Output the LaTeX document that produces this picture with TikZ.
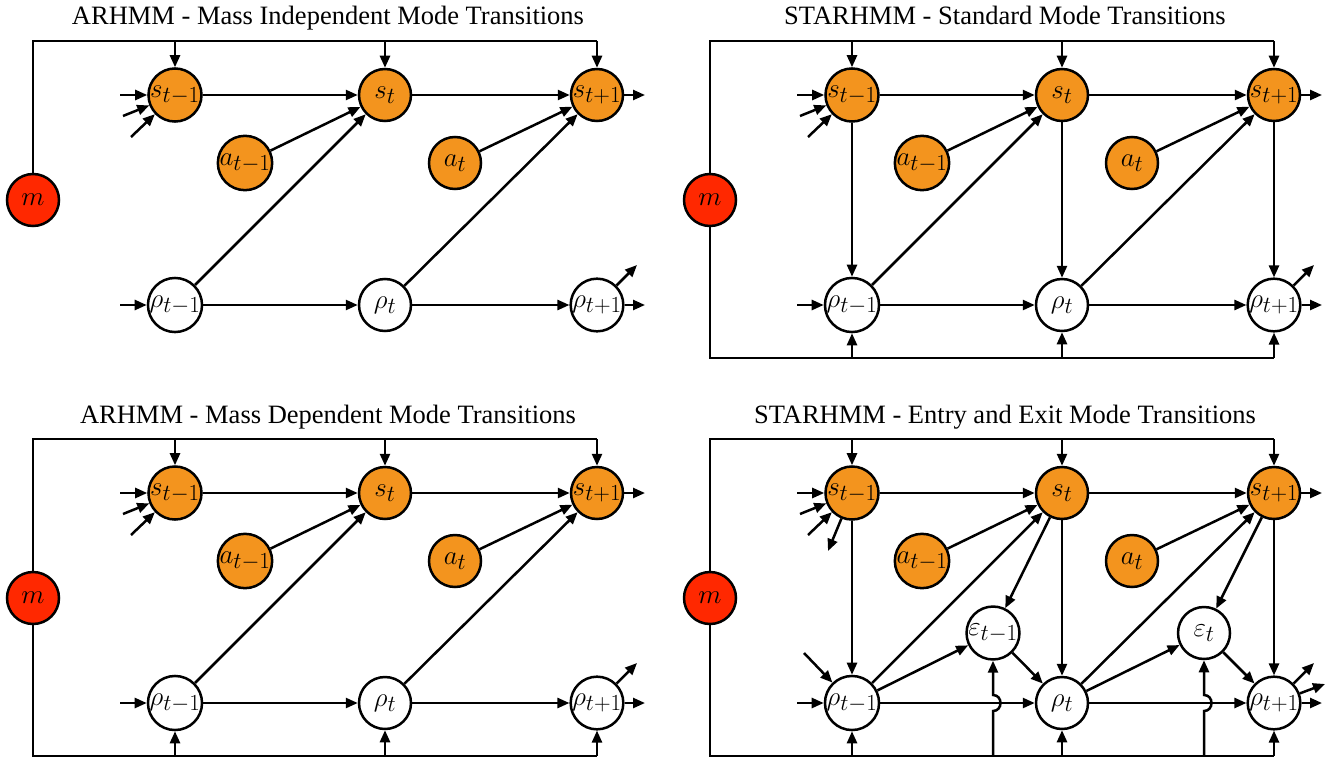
\documentclass[tikz,border=0pt]{standalone}
\usepackage{fix-cm}
\usepackage{fontspec}
\newfontfamily\titlefont{Liberation Serif}
\DeclareMathSizes{27}{27}{23}{18}
\usetikzlibrary{arrows.meta}
\definecolor{stateorange}{RGB}{243,148,30}
\definecolor{massred}{RGB}{255,40,0}
\tikzset{
    var/.style =     {circle,
                     draw=black,
                     text=black,
                     line width=2.5pt,
                     minimum size=52pt,
                     inner sep=0pt,
                     font=\fontsize{27}{32}\selectfont},
    mode/.style =    {var,
                     fill=stateorange},
    mass/.style =    {var,
                     fill=massred},
    latent/.style =  {var,
                     fill=white},
    heading/.style = {font=\titlefont\fontsize{26.5}{30}\selectfont,
                     anchor=base,
                     inner sep=0pt},
    >={Triangle[length=12pt,width=10pt]}}

\begin{document}
\begin{tikzpicture}[x=1pt,y=-1pt,line width=2.5pt]
    \useasboundingbox (0,0) rectangle (1327,760);
    % the part every panel shares
    \foreach \p/\dx/\dy/\ttl in {A/0/0/{ARHMM - Mass Independent Mode Transitions},
                                 B/677/0/{STARHMM - Standard Mode Transitions},
                                 C/0/398/{ARHMM - Mass Dependent Mode Transitions},
                                 D/677/398/{STARHMM - Entry and Exit Mode Transitions}}{
        \begin{scope}[shift={(\dx,\dy)}]
            \node[heading]  (\p title) at (328,25)   {\ttl};
            \node[mass]     (\p m)     at (33,200)   {$m$};
            \node[mode]     (\p s1)    at (175,95)   {$s_{t-1}$};
            \node[mode]     (\p s2)    at (385,95)   {$s_t$};
            \node[mode]     (\p s3)    at (597,95)   {$s_{t+1}$};
            \node[mode]     (\p a1)    at (245,163)  {$a_{t-1}$};
            \node[mode]     (\p a2)    at (455,163)  {$a_t$};
            \node[latent]   (\p r1)    at (175,305)  {$\rho_{t-1}$};
            \node[latent]   (\p r2)    at (385,305)  {$\rho_t$};
            \node[latent]   (\p r3)    at (597,305)  {$\rho_{t+1}$};
            \coordinate (\p top1) at (175,41);
            \coordinate (\p top2) at (385,41);
            \coordinate (\p top3) at (597,41);
            \coordinate (\p bot1) at (175,358);
            \coordinate (\p bot2) at (385,358);
            \coordinate (\p bot3) at (597,358);
            \coordinate (\p in1)  at (120,95);
            \coordinate (\p in2)  at (123,116);
            \coordinate (\p in3)  at (131,137);
            \coordinate (\p in4)  at (120,305);
            \coordinate (\p out1) at (645,95);
            \coordinate (\p out2) at (645,305);
            \coordinate (\p out3) at (637,265);
        \end{scope}
        \draw (\p m) |- (\p top3);
        \foreach \i in {1,2,3}
            \draw[->] (\p top\i) -- (\p s\i);
        \path [->]  (\p s1) edge (\p s2)
                    (\p s2) edge (\p s3)
                    (\p a1) edge (\p s2)
                    (\p a2) edge (\p s3)
                    (\p r1) edge (\p s2)
                    (\p r2) edge (\p s3)
                    (\p r1) edge (\p r2)
                    (\p r2) edge (\p r3);
        \draw[->] (\p in1) -- (\p s1);
        \draw[->] (\p in2) -- (\p s1);
        \draw[->] (\p in3) -- (\p s1);
        \draw[->] (\p in4) -- (\p r1);
        \draw[->] (\p s3) -- (\p out1);
        \draw[->] (\p r3) -- (\p out2);
        \draw[->] (\p r3) -- (\p out3);
    }
    % mass into the rho nodes
    \foreach \p in {B,C,D}{
        \draw (\p m) |- (\p bot3);
        \foreach \i in {1,2,3}
            \draw[->] (\p bot\i) -- (\p r\i);
    }
    % mode to rho
    \foreach \p in {B,D}
        \foreach \i in {1,2,3}
            \draw[->] (\p s\i) -- (\p r\i);
    % entry and exit
    \begin{scope}[shift={(677,398)}]
        \node[latent] (De1) at (316,235) {$\varepsilon_{t-1}$};
        \node[latent] (De2) at (527,235) {$\varepsilon_t$};
        \coordinate (Dbot4)  at (316,358);
        \coordinate (Dbot5)  at (527,358);
        \coordinate (Dhop1a) at (316,313);
        \coordinate (Dhop1b) at (316,297);
        \coordinate (Dhop2a) at (527,313);
        \coordinate (Dhop2b) at (527,297);
        \coordinate (Din5)   at (127,255);
        \coordinate (Dout4)  at (151,153);
        \coordinate (Dout5)  at (648,286);
    \end{scope}
    \path [->]  (Ds2) edge (De1)
                (Ds3) edge (De2)
                (Dr1) edge (De1)
                (Dr2) edge (De2)
                (De1) edge (Dr2)
                (De2) edge (Dr3);
    \draw[->] (Dbot4) -- (Dhop1a) to[out=0,in=0,looseness=1.6] (Dhop1b) -- (De1);
    \draw[->] (Dbot5) -- (Dhop2a) to[out=0,in=0,looseness=1.6] (Dhop2b) -- (De2);
    \draw[->] (Din5) -- (Dr1);
    \draw[->] (Ds1) -- (Dout4);
    \draw[->] (Dr3) -- (Dout5);
\end{tikzpicture}
\end{document}
